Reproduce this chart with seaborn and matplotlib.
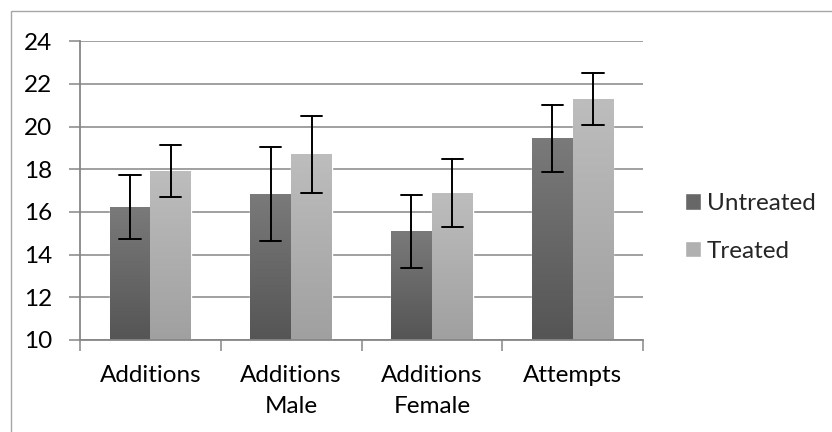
import numpy as np
import pandas as pd
import matplotlib
matplotlib.use("Agg")
import matplotlib.pyplot as plt
import seaborn as sns
from matplotlib.patches import Rectangle

# ── data ─────────────────────────────────────────────────────
CATEGORIES = ["Additions", "Additions\nMale", "Additions\nFemale", "Attempts"]
GROUPS = ["Untreated", "Treated"]
UNTREATED = [16.23, 16.84, 15.08, 19.46]
UNTREATED_ERR = [1.49, 2.19, 1.70, 1.57]
TREATED = [17.91, 18.69, 16.88, 21.29]
TREATED_ERR = [1.22, 1.80, 1.60, 1.21]
Y_TICKS = [10, 12, 14, 16, 18, 20, 22, 24]

# two rows per bar (mean - err, mean + err): mean gives bar, min/max gives whisker
rows = []
for grp, vals, errs in [("Untreated", UNTREATED, UNTREATED_ERR),
                        ("Treated", TREATED, TREATED_ERR)]:
    for cat, v, e in zip(CATEGORIES, vals, errs):
        rows.append({"category": cat, "group": grp, "value": v - e})
        rows.append({"category": cat, "group": grp, "value": v + e})
df = pd.DataFrame(rows)

sns.set_theme(style="white")
plt.rcParams["font.family"] = ["Lato", "DejaVu Sans"]

FS = 17.5
GRID = "#868686"
PALETTE = {"Untreated": "#676767", "Treated": "#b0b0b0"}
GRADIENTS = {"Untreated": ("#7a7a7a", "#555555"),
             "Treated": ("#bdbdbd", "#a0a0a0")}

fig = plt.figure(figsize=(8.32, 4.32), dpi=100)
ax = fig.add_axes([80 / 832, 1 - 340 / 432, 563 / 832, 298.7 / 432])

sns.barplot(
    data=df, x="category", y="value", hue="group", hue_order=GROUPS,
    order=CATEGORIES, palette=PALETTE, estimator="mean",
    errorbar=lambda x: (x.min(), x.max()), capsize=0.3, width=0.58,
    err_kws={"color": "black", "linewidth": 1.4}, ax=ax,
)

ax.set_xlim(-0.5, len(CATEGORIES) - 0.5)
ax.set_ylim(10, 24)
ymin = ax.get_ylim()[0]

# vertical gradient fill on every bar (Excel style)
bars = [p for p in ax.patches if p.get_height() > 0]
n = len(CATEGORIES)
for i, p in enumerate(bars[: 2 * n]):
    grp = GROUPS[i // n]
    p.set_zorder(1.5)
    top_c, bot_c = [np.array(matplotlib.colors.to_rgb(c)) for c in GRADIENTS[grp]]
    t = np.linspace(0, 1, 128)[:, None]
    img = (top_c * (1 - t) + bot_c * t)[:, None, :].repeat(2, axis=1)
    x0, w = p.get_x(), p.get_width()
    top = p.get_y() + p.get_height()
    ax.imshow(img, extent=[x0, x0 + w, max(p.get_y(), ymin), top],
              origin="upper", aspect="auto", zorder=1.6, interpolation="bilinear")
for ln in ax.lines:
    ln.set_zorder(3)

ax.set_xlim(-0.5, n - 0.5)
ax.set_ylim(10, 24)
ax.set_yticks(Y_TICKS)
ax.set_yticklabels([str(v) for v in Y_TICKS], fontsize=FS, color="black")
ax.yaxis.grid(True, color=GRID, linewidth=1.1, zorder=0)
ax.set_axisbelow(True)
ax.set_xlabel("")
ax.set_ylabel("")

# category boundary ticks like Excel
ax.set_xticks(np.arange(-0.5, n, 1.0), minor=False)
ax.set_xticklabels([])
ax.set_xticks(np.arange(n), minor=True)
ax.set_xticklabels(CATEGORIES, minor=True, fontsize=FS, color="black",
                   linespacing=1.6, va="top")
ax.tick_params(axis="x", which="major", length=8, width=1.1, color=GRID,
               direction="out", bottom=True)
ax.tick_params(axis="x", which="minor", length=0, pad=18)
ax.tick_params(axis="y", length=8, width=1.1, color=GRID, direction="out",
               left=True, pad=12)

for side in ["top", "right"]:
    ax.spines[side].set_visible(False)
for side in ["left", "bottom"]:
    ax.spines[side].set_color(GRID)
    ax.spines[side].set_linewidth(1.3)

handles, labels = ax.get_legend_handles_labels()
ax.legend(handles, labels, loc="center left", bbox_to_anchor=(1.0746, 0.377),
          frameon=False, fontsize=FS, handlelength=0.65, handleheight=0.65,
          handletextpad=0.25, labelspacing=1.1, borderaxespad=0, borderpad=0)

# light outer chart border
fig.patches.append(Rectangle((11 / 832, -0.05), 1.0, 1 - 11 / 432 + 0.05,
                             transform=fig.transFigure, fill=False,
                             edgecolor="#a6a6a6", linewidth=1.0))

fig.savefig("out.png", dpi=100)
